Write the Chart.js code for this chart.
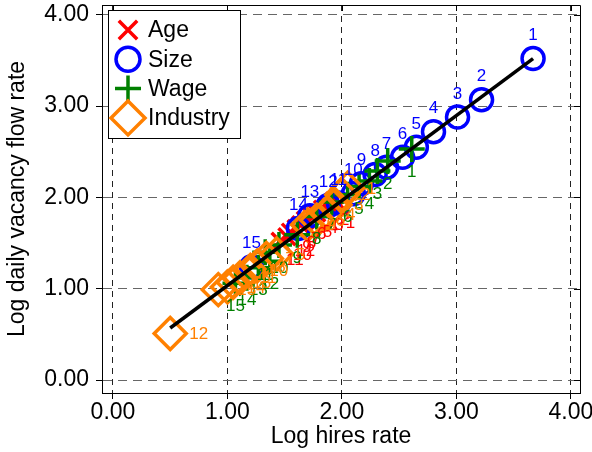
<!DOCTYPE html>
<html>
<head>
<meta charset="utf-8">
<script src="https://cdn.jsdelivr.net/npm/chart.js@4/dist/chart.umd.min.js"></script>
<style>
  html, body { margin: 0; padding: 0; background: #fff; }
  #wrap { width: 592px; height: 452px; }
</style>
</head>
<body>
<div id="wrap"><canvas id="chart"></canvas></div>
<script>
// values (log hires rate vs log daily vacancy flow rate)
var ageX = [1.98, 1.93, 1.88, 1.83, 1.78, 1.73, 1.68, 1.64, 1.60, 1.52, 1.46, 1.55];
var ageY = [1.92, 1.96, 1.90, 1.87, 1.83, 1.80, 1.75, 1.70, 1.66, 1.57, 1.52, 1.62];
var ageLabels = ['1', '2', '3', '4', '5', '6', '7', '8', '9', '10', '11', '12'];

var sizeX = [3.67, 3.22, 3.01, 2.80, 2.65, 2.53, 2.39, 2.29, 2.17, 2.10, 1.97, 1.88, 1.72, 1.62, 1.21];
var sizeY = [3.52, 3.07, 2.88, 2.72, 2.55, 2.44, 2.33, 2.25, 2.15, 2.04, 1.94, 1.91, 1.80, 1.66, 1.24];
var sizeLabels = ['1', '2', '3', '4', '5', '6', '7', '8', '9', '10', '11', '12', '13', '14', '15'];

var wageX = [2.61, 2.40, 2.31, 2.24, 2.15, 2.05, 1.91, 1.78, 1.61, 1.45, 1.33, 1.37, 1.27, 1.17, 1.07];
var wageY = [2.53, 2.40, 2.29, 2.18, 2.12, 2.03, 1.95, 1.79, 1.59, 1.48, 1.40, 1.30, 1.23, 1.12, 1.06];
var wageLabels = ['1', '2', '3', '4', '5', '6', '7', '8', '9', '10', '11', '12', '13', '14', '15'];

var industryX = [2.05, 2.00, 1.94, 1.87, 1.43, 1.78, 1.34, 1.26, 1.70, 1.20, 1.11, 0.50, 1.05, 1.00, 0.92];
var industryY = [2.10, 2.03, 1.92, 1.82, 1.38, 1.75, 1.33, 1.25, 1.70, 1.20, 1.12, 0.51, 1.07, 1.02, 0.99];
var industryLabels = ['1', '2', '3', '4', '5', '6', '7', '8', '9', '10', '11', '12', '13', '14', '15'];

var fitX = [0.50, 3.67];
var fitY = [0.57, 3.52];

var tickValues = [0, 1, 2, 3, 4];

var FONT = '"Liberation Sans", Arial, Helvetica, sans-serif';

function pts(xs, ys) {
  return xs.map(function (x, i) { return { x: x, y: ys[i] }; });
}

// number labels next to each marker
var markLabelPlugin = {
  id: 'markLabels',
  afterDatasetsDraw: function (chart) {
    var ctx = chart.ctx;
    chart.data.datasets.forEach(function (ds, di) {
      if (!ds.markLabels) return;
      var meta = chart.getDatasetMeta(di);
      var o = ds.labelPos;
      ctx.save();
      ctx.font = '17px ' + FONT;
      ctx.fillStyle = ds.borderColor;
      ctx.textAlign = o.align;
      ctx.textBaseline = 'middle';
      meta.data.forEach(function (el, i) {
        ctx.fillText(ds.markLabels[i], el.x + o.dx, el.y + o.dy);
      });
      ctx.restore();
    });
  }
};

// frame on top/right and the boxed legend in the upper left
var framePlugin = {
  id: 'frameLegend',
  afterDraw: function (chart) {
    var ctx = chart.ctx;
    var a = chart.chartArea;
    ctx.save();
    ctx.strokeStyle = '#000';
    ctx.lineWidth = 1;
    ctx.beginPath();
    ctx.moveTo(a.left, a.top + 0.5);
    ctx.lineTo(a.right + 0.5, a.top + 0.5);
    ctx.lineTo(a.right + 0.5, a.bottom);
    ctx.stroke();
    tickValues.forEach(function (v) {
      var px = Math.round(chart.scales.x.getPixelForValue(v)) + 0.5;
      var py = Math.round(chart.scales.y.getPixelForValue(v)) + 0.5;
      ctx.beginPath();
      ctx.moveTo(px, a.top); ctx.lineTo(px, a.top + 6);
      ctx.moveTo(a.right, py); ctx.lineTo(a.right - 6, py);
      ctx.stroke();
    });

    var x0 = a.left + 6, y0 = a.top + 5, w = 132, h = 128;
    ctx.fillStyle = '#fff';
    ctx.fillRect(x0, y0, w, h);
    ctx.strokeStyle = '#000';
    ctx.strokeRect(x0 + 0.5, y0 + 0.5, w, h);
    var row = 0;
    chart.data.datasets.forEach(function (ds) {
      if (!ds.markLabels) return;
      var cy = y0 + 20 + row * 29.3;
      ctx.strokeStyle = ds.borderColor;
      ctx.fillStyle = 'rgba(0,0,0,0)';
      ctx.lineWidth = 3.5;
      Chart.helpers.drawPoint(ctx, {
        pointStyle: ds.pointStyle, radius: ds.legendRadius, borderWidth: 3.5, rotation: 0
      }, x0 + 20, cy);
      ctx.fillStyle = '#000';
      ctx.font = '23px ' + FONT;
      ctx.textAlign = 'left';
      ctx.textBaseline = 'middle';
      ctx.fillText(ds.label, x0 + 40, cy + 1);
      row++;
    });
    ctx.restore();
  }
};

var ctx = document.getElementById('chart').getContext('2d');
var chart = new Chart(ctx, {
  type: 'scatter',
  data: {
    datasets: [
      {
        label: 'Age', data: pts(ageX, ageY), markLabels: ageLabels, order: 4,
        pointStyle: 'crossRot', pointRadius: 12, borderColor: '#ff0000', borderWidth: 3.5,
        backgroundColor: 'rgba(0,0,0,0)', legendRadius: 13,
        labelPos: { dx: 6, dy: 19, align: 'left' }
      },
      {
        label: 'Size', data: pts(sizeX, sizeY), markLabels: sizeLabels, order: 3,
        pointStyle: 'circle', pointRadius: 11, borderColor: '#0000ff', borderWidth: 3.5,
        backgroundColor: 'rgba(0,0,0,0)', legendRadius: 12,
        labelPos: { dx: 0, dy: -23, align: 'center' }
      },
      {
        label: 'Wage', data: pts(wageX, wageY), markLabels: wageLabels, order: 2,
        pointStyle: 'cross', pointRadius: 13, borderColor: '#008000', borderWidth: 3.5,
        backgroundColor: 'rgba(0,0,0,0)', legendRadius: 13,
        labelPos: { dx: 0, dy: 23, align: 'center' }
      },
      {
        label: 'Industry', data: pts(industryX, industryY), markLabels: industryLabels, order: 1,
        pointStyle: 'rectRot', pointRadius: 16, borderColor: '#ff8000', borderWidth: 3.5,
        backgroundColor: 'rgba(0,0,0,0)', legendRadius: 17,
        labelPos: { dx: 19, dy: 1, align: 'left' }
      },
      {
        label: 'Fit', data: pts(fitX, fitY), order: 0, showLine: true,
        borderColor: '#000', borderWidth: 3.5, pointRadius: 0
      }
    ]
  },
  options: {
    responsive: true,
    maintainAspectRatio: false,
    animation: false,
    layout: { autoPadding: false, padding: { top: 5, right: 12, left: 0, bottom: 0 } },
    plugins: { legend: { display: false }, tooltip: { enabled: false } },
    scales: {
      x: {
        type: 'linear', min: -0.096, max: 4.08,
        afterBuildTicks: function (s) { s.ticks = tickValues.map(function (v) { return { value: v }; }); },
        afterFit: function (s) { s.height = 59; s.paddingLeft = 0; s.paddingRight = 0; },
        ticks: { color: '#000', font: { family: FONT, size: 23 }, padding: 0, maxRotation: 0,
                 callback: function (v) { return v.toFixed(2); } },
        grid: { color: '#222', tickColor: '#000', tickLength: 6, lineWidth: 1 },
        border: { display: true, color: '#000', width: 1, dash: [6, 5] },
        title: { display: true, text: 'Log hires rate', color: '#000',
                 font: { family: FONT, size: 23 }, padding: { top: 0, bottom: 2 } }
      },
      y: {
        type: 'linear', min: -0.142, max: 4.107,
        afterBuildTicks: function (s) { s.ticks = tickValues.map(function (v) { return { value: v }; }); },
        afterFit: function (s) { s.width = 102; s.paddingTop = 0; s.paddingBottom = 0; },
        ticks: { color: '#000', font: { family: FONT, size: 23 }, padding: 7,
                 callback: function (v) { return v.toFixed(2); } },
        grid: { color: '#666', tickColor: '#000', tickLength: 6, lineWidth: 1 },
        border: { display: true, color: '#000', width: 1, dash: [9, 6] },
        title: { display: true, text: 'Log daily vacancy flow rate', color: '#000',
                 font: { family: FONT, size: 23 }, padding: { top: 4, bottom: 0 } }
      }
    }
  },
  plugins: [markLabelPlugin, framePlugin]
});
</script>
</body>
</html>
